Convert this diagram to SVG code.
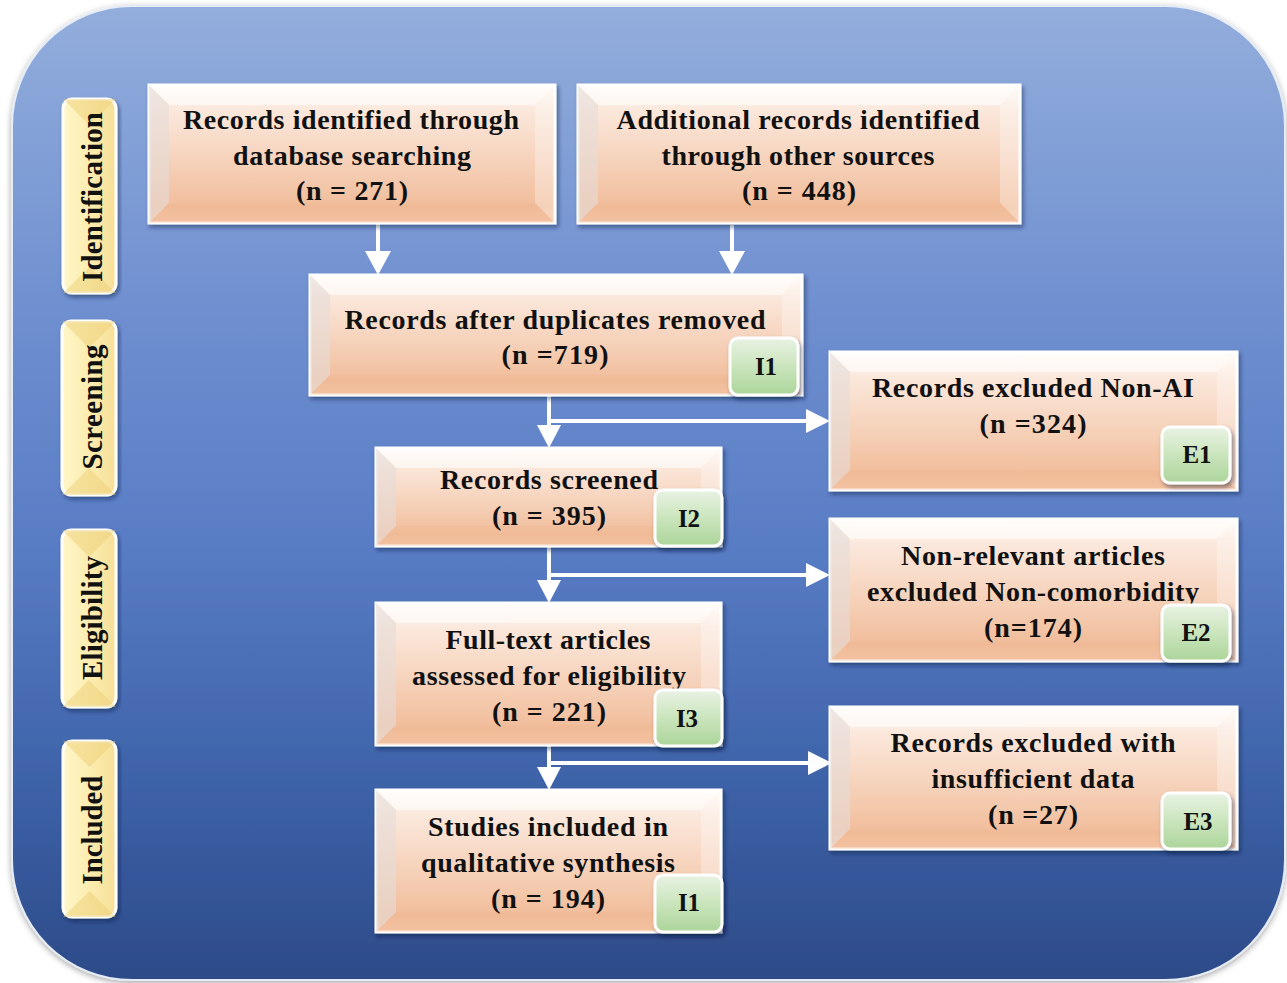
<svg xmlns="http://www.w3.org/2000/svg" width="1287" height="983" viewBox="0 0 1287 983">
  <defs>
    <linearGradient id="bgGrad" x1="0" y1="0" x2="0" y2="1">
      <stop offset="0" stop-color="#93aedc"/>
      <stop offset="0.3" stop-color="#7090d0"/>
      <stop offset="0.55" stop-color="#597dc5"/>
      <stop offset="0.8" stop-color="#3d62a8"/>
      <stop offset="1" stop-color="#2d4a88"/>
    </linearGradient>
    <linearGradient id="boxGrad" x1="0" y1="0" x2="0" y2="1">
      <stop offset="0" stop-color="#fffaf6"/>
      <stop offset="0.18" stop-color="#fbe8dc"/>
      <stop offset="0.6" stop-color="#f5cfb6"/>
      <stop offset="0.88" stop-color="#f1bd9b"/>
      <stop offset="1" stop-color="#f4c7a9"/>
    </linearGradient>
    <linearGradient id="badgeGrad" x1="0" y1="0" x2="0" y2="1">
      <stop offset="0" stop-color="#e9f3e4"/>
      <stop offset="0.45" stop-color="#cde6c0"/>
      <stop offset="1" stop-color="#acd59a"/>
    </linearGradient>
    <linearGradient id="tabGrad" x1="0" y1="0" x2="1" y2="0">
      <stop offset="0" stop-color="#fff6c8"/>
      <stop offset="0.5" stop-color="#fcedb0"/>
      <stop offset="1" stop-color="#f6df98"/>
    </linearGradient>
    <filter id="shadow" x="-10%" y="-10%" width="120%" height="130%">
      <feDropShadow dx="2" dy="3" stdDeviation="2" flood-color="#0b1a3a" flood-opacity="0.45"/>
    </filter>
    <filter id="bgShadow" x="-5%" y="-5%" width="110%" height="110%">
      <feDropShadow dx="0" dy="2" stdDeviation="3" flood-color="#000" flood-opacity="0.35"/>
    </filter>
    <style>
      .box { fill: url(#boxGrad); stroke: #ffffff; stroke-width: 3; }
      .bev-t { fill: #ffffff; opacity: 0.55; }
      .bev-l { fill: #e4dcd8; opacity: 0.6; }
      .bev-r { fill: #ffffff; opacity: 0.3; }
      .bev-b { fill: #eeb48c; opacity: 0.25; }
      .badge { fill: url(#badgeGrad); stroke: #ffffff; stroke-width: 3; }
      .tab { fill: url(#tabGrad); stroke: #ffffff; stroke-width: 3; }
      .tab-bev { fill: #eccd72; opacity: 0.45; }
      .lbl { font-family: "Liberation Serif", "Times New Roman", serif; font-weight: bold; font-size: 28px; fill: #111111; text-anchor: middle; }
      .blbl { font-family: "Liberation Serif", "Times New Roman", serif; font-weight: bold; font-size: 25px; fill: #111111; text-anchor: middle; }
      .tlbl { font-family: "Liberation Serif", "Times New Roman", serif; font-weight: bold; font-size: 29px; fill: #111111; text-anchor: middle; }
      .line { stroke: #ffffff; stroke-width: 4; fill: none; }
      .head { fill: #ffffff; }
    </style>
  </defs>

  <!-- panel background -->
  <rect x="12" y="6" width="1273" height="974" rx="120" ry="120" fill="url(#bgGrad)" stroke="#e6ecf7" stroke-width="2" filter="url(#bgShadow)"/>

  <!-- phase tabs -->
  <g id="tab-identification">
    <rect class="tab" x="63" y="99" width="53" height="194" rx="9" filter="url(#shadow)"/>
    <polygon class="tab-bev" points="63,99 116,99 89.5,125"/>
    <polygon class="tab-bev" points="63,293 116,293 89.5,267"/>
    <text class="tlbl" transform="translate(102,197) rotate(-90)" textLength="170" lengthAdjust="spacing">Identification</text>
  </g>
  <g id="tab-screening">
    <rect class="tab" x="62" y="321" width="54" height="174" rx="9" filter="url(#shadow)"/>
    <polygon class="tab-bev" points="62,321 116,321 89,348"/>
    <polygon class="tab-bev" points="62,495 116,495 89,468"/>
    <text class="tlbl" transform="translate(102,407) rotate(-90)" textLength="125" lengthAdjust="spacing">Screening</text>
  </g>
  <g id="tab-eligibility">
    <rect class="tab" x="62" y="530" width="54" height="177" rx="9" filter="url(#shadow)"/>
    <polygon class="tab-bev" points="62,530 116,530 89,557"/>
    <polygon class="tab-bev" points="62,707 116,707 89,680"/>
    <text class="tlbl" transform="translate(102,618) rotate(-90)" textLength="124" lengthAdjust="spacing">Eligibility</text>
  </g>
  <g id="tab-included">
    <rect class="tab" x="63" y="741" width="53" height="176" rx="9" filter="url(#shadow)"/>
    <polygon class="tab-bev" points="63,741 116,741 89.5,767"/>
    <polygon class="tab-bev" points="63,917 116,917 89.5,891"/>
    <text class="tlbl" transform="translate(102,830) rotate(-90)" textLength="109" lengthAdjust="spacing">Included</text>
  </g>

  <!-- connectors -->
  <g id="connectors">
    <line class="line" x1="378" y1="223" x2="378" y2="253"/>
    <polygon class="head" points="365,251 391,251 378,275"/>
    <line class="line" x1="732" y1="225" x2="732" y2="253"/>
    <polygon class="head" points="719,251 745,251 732,275"/>

    <line class="line" x1="549" y1="395" x2="549" y2="427"/>
    <polygon class="head" points="537,425 561,425 549,448"/>
    <line class="line" x1="549" y1="421" x2="808" y2="421"/>
    <polygon class="head" points="806,409 806,433 830,421"/>

    <line class="line" x1="549" y1="546" x2="549" y2="582"/>
    <polygon class="head" points="537,580 561,580 549,603"/>
    <line class="line" x1="549" y1="575" x2="808" y2="575"/>
    <polygon class="head" points="806,563 806,587 830,575"/>

    <line class="line" x1="549" y1="745" x2="549" y2="769"/>
    <polygon class="head" points="537,767 561,767 549,790"/>
    <line class="line" x1="549" y1="763" x2="810" y2="763"/>
    <polygon class="head" points="808,751 808,775 832,763"/>
  </g>

  <!-- records identified through database searching -->
  <g id="box-database">
    <rect class="box" x="149" y="85" width="406" height="138" filter="url(#shadow)"/>
    <polygon class="bev-t" points="149,85 555,85 535,105 169,105"/>
    <polygon class="bev-l" points="149,85 169,105 169,203 149,223"/>
    <polygon class="bev-r" points="555,85 555,223 535,203 535,105"/>
    <polygon class="bev-b" points="149,223 555,223 535,203 169,203"/>
    <text class="lbl" x="351" y="129" textLength="336" lengthAdjust="spacing">Records identified through</text>
    <text class="lbl" x="352" y="165" textLength="238" lengthAdjust="spacing">database searching</text>
    <text class="lbl" x="352" y="200" textLength="112" lengthAdjust="spacing">(n = 271)</text>
  </g>

  <!-- additional records -->
  <g id="box-other-sources">
    <rect class="box" x="578" y="85" width="442" height="138" filter="url(#shadow)"/>
    <polygon class="bev-t" points="578,85 1020,85 1000,105 598,105"/>
    <polygon class="bev-l" points="578,85 598,105 598,203 578,223"/>
    <polygon class="bev-r" points="1020,85 1020,223 1000,203 1000,105"/>
    <polygon class="bev-b" points="578,223 1020,223 1000,203 598,203"/>
    <text class="lbl" x="798" y="129" textLength="363" lengthAdjust="spacing">Additional records identified</text>
    <text class="lbl" x="798" y="165" textLength="273" lengthAdjust="spacing">through other sources</text>
    <text class="lbl" x="799" y="200" textLength="114" lengthAdjust="spacing">(n = 448)</text>
  </g>

  <!-- after duplicates removed -->
  <g id="box-deduplicated">
    <rect class="box" x="310" y="275" width="492" height="120" filter="url(#shadow)"/>
    <polygon class="bev-t" points="310,275 802,275 782,295 330,295"/>
    <polygon class="bev-l" points="310,275 330,295 330,375 310,395"/>
    <polygon class="bev-r" points="802,275 802,395 782,375 782,295"/>
    <polygon class="bev-b" points="310,395 802,395 782,375 330,375"/>
    <text class="lbl" x="555" y="329" textLength="421" lengthAdjust="spacing">Records after duplicates removed</text>
    <text class="lbl" x="555" y="364" textLength="107" lengthAdjust="spacing">(n =719)</text>
    <rect class="badge" x="730" y="338" width="68" height="57" rx="8" filter="url(#shadow)"/>
    <text class="blbl" x="766" y="375">I1</text>
  </g>

  <!-- excluded non-AI -->
  <g id="box-excluded-nonai">
    <rect class="box" x="830" y="352" width="407" height="138" filter="url(#shadow)"/>
    <polygon class="bev-t" points="830,352 1237,352 1217,372 850,372"/>
    <polygon class="bev-l" points="830,352 850,372 850,470 830,490"/>
    <polygon class="bev-r" points="1237,352 1237,490 1217,470 1217,372"/>
    <polygon class="bev-b" points="830,490 1237,490 1217,470 850,470"/>
    <text class="lbl" x="1033" y="397" textLength="322" lengthAdjust="spacing">Records excluded Non-AI</text>
    <text class="lbl" x="1033" y="433" textLength="107" lengthAdjust="spacing">(n =324)</text>
    <rect class="badge" x="1162" y="427" width="68" height="56" rx="8" filter="url(#shadow)"/>
    <text class="blbl" x="1197" y="463">E1</text>
  </g>

  <!-- records screened -->
  <g id="box-screened">
    <rect class="box" x="376" y="448" width="345" height="98" filter="url(#shadow)"/>
    <polygon class="bev-t" points="376,448 721,448 701,468 396,468"/>
    <polygon class="bev-l" points="376,448 396,468 396,526 376,546"/>
    <polygon class="bev-r" points="721,448 721,546 701,526 701,468"/>
    <polygon class="bev-b" points="376,546 721,546 701,526 396,526"/>
    <text class="lbl" x="549" y="489" textLength="218" lengthAdjust="spacing">Records screened</text>
    <text class="lbl" x="549" y="525" textLength="114" lengthAdjust="spacing">(n = 395)</text>
    <rect class="badge" x="655" y="490" width="67" height="56" rx="8" filter="url(#shadow)"/>
    <text class="blbl" x="689" y="527">I2</text>
  </g>

  <!-- non-relevant articles -->
  <g id="box-excluded-comorbidity">
    <rect class="box" x="830" y="519" width="407" height="142" filter="url(#shadow)"/>
    <polygon class="bev-t" points="830,519 1237,519 1217,539 850,539"/>
    <polygon class="bev-l" points="830,519 850,539 850,641 830,661"/>
    <polygon class="bev-r" points="1237,519 1237,661 1217,641 1217,539"/>
    <polygon class="bev-b" points="830,661 1237,661 1217,641 850,641"/>
    <text class="lbl" x="1033" y="565" textLength="264" lengthAdjust="spacing">Non-relevant articles</text>
    <text class="lbl" x="1033" y="601" textLength="332" lengthAdjust="spacing">excluded Non-comorbidity</text>
    <text class="lbl" x="1033" y="637" textLength="98" lengthAdjust="spacing">(n=174)</text>
    <rect class="badge" x="1162" y="605" width="68" height="56" rx="8" filter="url(#shadow)"/>
    <text class="blbl" x="1196" y="641">E2</text>
  </g>

  <!-- full-text assessed -->
  <g id="box-fulltext">
    <rect class="box" x="376" y="603" width="345" height="142" filter="url(#shadow)"/>
    <polygon class="bev-t" points="376,603 721,603 701,623 396,623"/>
    <polygon class="bev-l" points="376,603 396,623 396,725 376,745"/>
    <polygon class="bev-r" points="721,603 721,745 701,725 701,623"/>
    <polygon class="bev-b" points="376,745 721,745 701,725 396,725"/>
    <text class="lbl" x="548" y="649" textLength="205" lengthAdjust="spacing">Full-text articles</text>
    <text class="lbl" x="549" y="685" textLength="274" lengthAdjust="spacing">assessed for eligibility</text>
    <text class="lbl" x="549" y="721" textLength="114" lengthAdjust="spacing">(n = 221)</text>
    <rect class="badge" x="655" y="690" width="67" height="56" rx="8" filter="url(#shadow)"/>
    <text class="blbl" x="687" y="727">I3</text>
  </g>

  <!-- insufficient data -->
  <g id="box-excluded-insufficient">
    <rect class="box" x="830" y="707" width="407" height="142" filter="url(#shadow)"/>
    <polygon class="bev-t" points="830,707 1237,707 1217,727 850,727"/>
    <polygon class="bev-l" points="830,707 850,727 850,829 830,849"/>
    <polygon class="bev-r" points="1237,707 1237,849 1217,829 1217,727"/>
    <polygon class="bev-b" points="830,849 1237,849 1217,829 850,829"/>
    <text class="lbl" x="1033" y="752" textLength="285" lengthAdjust="spacing">Records excluded with</text>
    <text class="lbl" x="1033" y="788" textLength="203" lengthAdjust="spacing">insufficient data</text>
    <text class="lbl" x="1033" y="824" textLength="90" lengthAdjust="spacing">(n =27)</text>
    <rect class="badge" x="1162" y="793" width="68" height="56" rx="8" filter="url(#shadow)"/>
    <text class="blbl" x="1198" y="830">E3</text>
  </g>

  <!-- studies included -->
  <g id="box-included">
    <rect class="box" x="376" y="790" width="345" height="142" filter="url(#shadow)"/>
    <polygon class="bev-t" points="376,790 721,790 701,810 396,810"/>
    <polygon class="bev-l" points="376,790 396,810 396,912 376,932"/>
    <polygon class="bev-r" points="721,790 721,932 701,912 701,810"/>
    <polygon class="bev-b" points="376,932 721,932 701,912 396,912"/>
    <text class="lbl" x="548" y="836" textLength="240" lengthAdjust="spacing">Studies included in</text>
    <text class="lbl" x="548" y="872" textLength="254" lengthAdjust="spacing">qualitative synthesis</text>
    <text class="lbl" x="548" y="908" textLength="114" lengthAdjust="spacing">(n = 194)</text>
    <rect class="badge" x="655" y="875" width="67" height="57" rx="8" filter="url(#shadow)"/>
    <text class="blbl" x="689" y="911">I1</text>
  </g>
</svg>
